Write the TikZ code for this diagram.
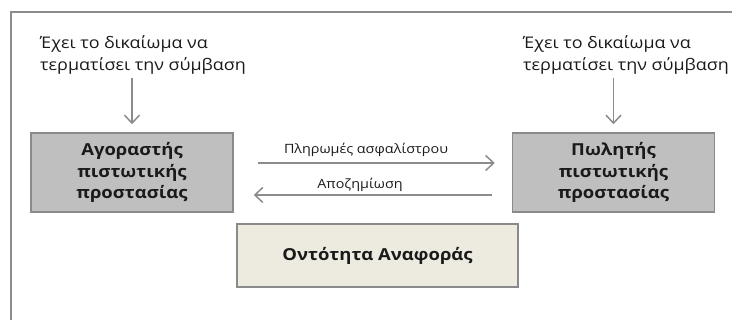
\documentclass[tikz,border=0pt]{standalone}
\usepackage{fontspec}
\setmainfont{Open Sans}[FakeStretch=1.12]
\usetikzlibrary{arrows.meta}
\definecolor{framec}{HTML}{8C8C8C}
\definecolor{boxfill}{HTML}{BFBFBF}
\definecolor{boxdraw}{HTML}{8A8A8A}
\definecolor{beige}{HTML}{EDEBE0}
\definecolor{arrc}{HTML}{8C8C8C}
\definecolor{txt}{HTML}{1A1A1A}
\begin{document}
\begin{tikzpicture}[x=1pt,y=1pt,
  party/.style={draw=boxdraw,fill=boxfill,line width=1.5pt,minimum width=202pt,minimum height=79pt,
    align=center,font=\fontsize{16.5}{21.5}\selectfont\bfseries,text=txt,inner sep=0pt},
  refbox/.style={draw=boxdraw,fill=beige,line width=1.5pt,minimum width=281pt,minimum height=63pt,
    align=center,font=\fontsize{16.5}{21.5}\selectfont\bfseries,text=txt,inner sep=0pt},
  note/.style={align=left,font=\fontsize{16}{22}\selectfont,text=txt,inner sep=0pt,anchor=west},
  flowlabel/.style={font=\fontsize{12.8}{16}\selectfont,text=txt,inner sep=0pt},
  arr/.style={draw=arrc,line width=1.5pt,-{Straight Barb[length=8pt,width=15pt,line width=1.5pt]}}
]
\useasboundingbox (0,0) rectangle (732,320);
\draw[framec,line width=1.5pt] (11,0) -- (11,308) -- (732,308);

\node[party] (buyer) at (132,147.5) {Αγοραστής\\πιστωτικής\\προστασίας};
\node[party] (seller) at (613.5,147.5) {Πωλητής\\πιστωτικής\\προστασίας};
\node[refbox] (ref) at (377.5,64.5) {Οντότητα Αναφοράς};

\node[note] (nl) at (40,265) {Έχει το δικαίωμα να\\τερματίσει την σύμβαση};
\node[note] (nr) at (523,265) {Έχει το δικαίωμα να\\τερματίσει την σύμβαση};

\draw[arr] (buyer.north |- nl.south) ++(0,-3) -- ([yshift=8pt]buyer.north);
\draw[arr] (seller.north |- nr.south) ++(0,-3) -- ([yshift=8pt]seller.north);

\coordinate (a1s) at ([xshift=24pt,yshift=9.5pt]buyer.east);
\coordinate (a1e) at ([xshift=-17pt,yshift=9.5pt]seller.west);
\draw[arr] (a1s) -- (a1e);
\node[flowlabel,anchor=base] (l1) at (366,166) {Πληρωμές ασφαλίστρου};

\coordinate (a2s) at ([xshift=-20pt,yshift=-22.5pt]seller.west);
\coordinate (a2e) at ([xshift=20pt,yshift=-22.5pt]buyer.east);
\draw[arr] (a2s) -- (a2e);
\node[flowlabel,anchor=base] (l2) at (360,131) {Αποζημίωση};
\end{tikzpicture}
\end{document}
